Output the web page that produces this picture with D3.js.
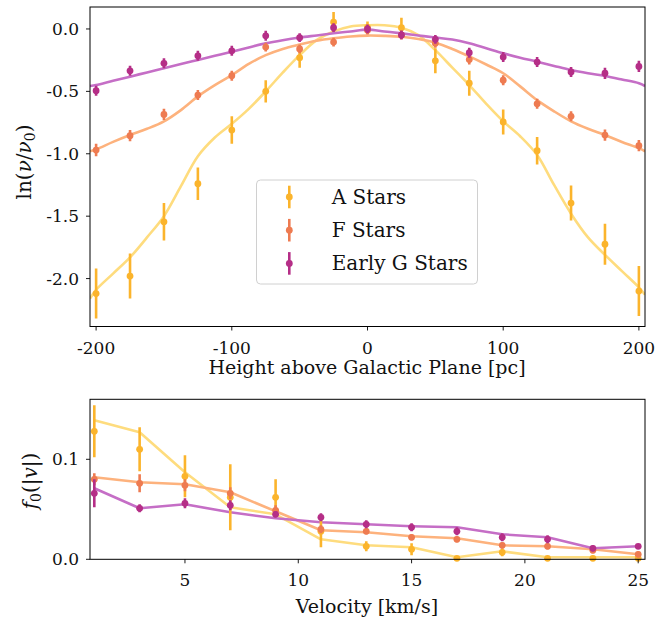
<!DOCTYPE html>
<html><head><meta charset="utf-8">
<script src="https://cdn.jsdelivr.net/npm/d3@7"></script>
<style>
body{margin:0;background:#fff;}
</style></head><body>
<svg id="chart" width="668" height="620"></svg>
<script>
// ---------- DATA: top panel ----------
const heights = [-200,-175,-150,-125,-100,-75,-50,-25,0,25,50,75,100,125,150,175,200];
const aStars   = [-2.12,-1.98,-1.545,-1.24,-0.81,-0.50,-0.23,0.055,0.01,0.01,-0.255,-0.435,-0.745,-0.975,-1.395,-1.725,-2.10];
const aErr     = [0.20,0.18,0.15,0.13,0.11,0.09,0.08,0.08,0.05,0.08,0.10,0.10,0.10,0.11,0.14,0.165,0.20];
const fStars   = [-0.97,-0.855,-0.685,-0.53,-0.375,-0.145,-0.16,-0.105,-0.01,-0.05,-0.115,-0.245,-0.41,-0.60,-0.70,-0.85,-0.935];
const fErr     = [0.05,0.045,0.045,0.04,0.04,0.035,0.035,0.035,0.035,0.035,0.035,0.04,0.04,0.04,0.04,0.045,0.045];
const gStars   = [-0.495,-0.335,-0.275,-0.215,-0.175,-0.055,-0.07,0.01,0.0,-0.048,-0.083,-0.19,-0.225,-0.265,-0.345,-0.355,-0.30];
const gErr     = [0.04,0.04,0.04,0.04,0.04,0.04,0.035,0.035,0.035,0.035,0.035,0.04,0.04,0.04,0.04,0.045,0.045];

const heightCurve = [-204.5,-200,-187.5,-175,-162.5,-150,-137.5,-125,-112.5,-100,-87.5,-75,-62.5,-50,-37.5,-25,-12.5,0,12.5,25,37.5,50,62.5,75,87.5,100,112.5,125,137.5,150,162.5,175,187.5,200,204.5];
const aModel = [-2.16,-2.09,-1.96,-1.83,-1.67,-1.50,-1.26,-1.02,-0.87,-0.76,-0.64,-0.50,-0.35,-0.21,-0.09,-0.02,0.02,0.03,0.03,0.01,-0.05,-0.17,-0.31,-0.45,-0.60,-0.74,-0.86,-1.01,-1.25,-1.48,-1.67,-1.81,-1.94,-2.07,-2.13];
const fModel = [-0.98,-0.965,-0.905,-0.85,-0.80,-0.74,-0.65,-0.54,-0.45,-0.37,-0.28,-0.21,-0.16,-0.125,-0.095,-0.075,-0.06,-0.053,-0.055,-0.062,-0.08,-0.11,-0.16,-0.22,-0.285,-0.355,-0.46,-0.57,-0.66,-0.74,-0.80,-0.85,-0.905,-0.955,-0.98];
const gModel = [-0.457,-0.449,-0.415,-0.382,-0.348,-0.315,-0.281,-0.248,-0.215,-0.182,-0.148,-0.115,-0.09,-0.069,-0.052,-0.035,-0.02,-0.005,-0.02,-0.035,-0.052,-0.069,-0.085,-0.115,-0.155,-0.195,-0.23,-0.262,-0.296,-0.329,-0.355,-0.377,-0.405,-0.435,-0.457];

const topXTicks = [-200,-100,0,100,200];
const topYTicks = [0.0,-0.5,-1.0,-1.5,-2.0];

// ---------- DATA: bottom panel ----------
const velocities = [1,3,5,7,9,11,13,15,17,19,21,23,25];
const aVel    = [0.128,0.110,0.083,0.062,0.062,0.028,0.013,0.010,0.001,0.007,0.001,0.001,0.001];
const aVelErr = [0.026,0.022,0.021,0.033,0.018,0.016,0.005,0.006,0.002,0.004,0.002,0.002,0.002];
const fVel    = [0.080,0.076,0.074,0.066,0.049,0.030,0.028,0.022,0.020,0.014,0.013,0.009,0.005];
const fVelErr = [0.006,0.009,0.006,0.006,0.005,0.004,0.003,0.003,0.003,0.003,0.003,0.003,0.003];
const gVel    = [0.066,0.051,0.056,0.054,0.045,0.042,0.035,0.032,0.028,0.022,0.020,0.011,0.013];
const gVelErr = [0.014,0.004,0.005,0.005,0.003,0.004,0.004,0.004,0.004,0.004,0.004,0.003,0.002];
const aVelModel = [0.139,0.127,0.087,0.052,0.045,0.020,0.014,0.012,0.002,0.008,0.002,0.002,0.002];
const fVelModel = [0.082,0.077,0.075,0.067,0.048,0.029,0.027,0.023,0.021,0.014,0.013,0.010,0.005];
const gVelModel = [0.071,0.051,0.055,0.047,0.041,0.037,0.035,0.033,0.032,0.025,0.022,0.011,0.013];

const botXTicks = [5,10,15,20,25];
const botYTicks = [0.0,0.1];

const seriesNames = ["A Stars","F Stars","Early G Stars"];
const pointColors = ["#fbb42c","#ee7b51","#b52e87"];
const lineColors  = ["#fedc7e","#fdb27d","#c56ec6"];

// ---------- DRAW ----------
const FONT = "'DejaVu Serif', 'Liberation Serif', serif";
const svg = d3.select("#chart");
const L = 90, R = 645;
function txt(g){ return g.append("text").style("font-family",FONT).attr("fill","#111"); }
const fmt1 = v => d3.format(".1f")(v).replace("−","-");

function frame(g, x, y, xt, yt, fmtY, fmtX){
  const [y0,y1] = y.range();
  xt.forEach(t=>{
    g.append("line").attr("x1",x(t)).attr("x2",x(t)).attr("y1",y0).attr("y2",y0+4)
     .attr("stroke","#000").attr("stroke-width",0.9);
    txt(g).attr("x",x(t)).attr("y",y0+27).attr("text-anchor","middle")
     .style("font-size","17px").text(fmtX(t));
  });
  yt.forEach(t=>{
    g.append("line").attr("x1",L-4).attr("x2",L).attr("y1",y(t)).attr("y2",y(t))
     .attr("stroke","#000").attr("stroke-width",0.9);
    txt(g).attr("x",L-11).attr("y",y(t)+6).attr("text-anchor","end")
     .style("font-size","17px").text(fmtY(t));
  });
  g.append("rect").attr("x",L).attr("y",y1).attr("width",R-L).attr("height",y0-y1)
   .attr("fill","none").attr("stroke","#000").attr("stroke-width",1);
}

function drawSeries(g, x, y, xs, vals, errs, color, clipId){
  const grp = g.append("g").attr("clip-path",`url(#${clipId})`);
  xs.forEach((xv,i)=>{
    grp.append("line").attr("x1",x(xv)).attr("x2",x(xv))
      .attr("y1",y(vals[i]-errs[i])).attr("y2",y(vals[i]+errs[i]))
      .attr("stroke",color).attr("stroke-width",2.6);
    grp.append("circle").attr("cx",x(xv)).attr("cy",y(vals[i])).attr("r",3.4).attr("fill",color);
  });
}
function drawModel(g, x, y, xs, vals, color, clipId, curve){
  const line = d3.line().x((d,i)=>x(xs[i])).y(d=>y(d)).curve(curve);
  g.append("path").attr("clip-path",`url(#${clipId})`).attr("d",line(vals))
   .attr("fill","none").attr("stroke",color).attr("stroke-width",2.6)
   .attr("stroke-linejoin","round");
}

// Top panel
const xTop = d3.scaleLinear().domain([-204.5,204.5]).range([L,R]);
const yTop = d3.scaleLinear().domain([-2.384,0.176]).range([326.5,7]);
const defs = svg.append("defs");
defs.append("clipPath").attr("id","clipTop").append("rect")
  .attr("x",L).attr("y",7).attr("width",R-L).attr("height",326.5-7);
defs.append("clipPath").attr("id","clipBot").append("rect")
  .attr("x",L).attr("y",399.3).attr("width",R-L).attr("height",560.3-399.3+3);

const gTop = svg.append("g");
[aModel,fModel,gModel].forEach((m,i)=>drawModel(gTop,xTop,yTop,heightCurve,m,lineColors[i],"clipTop",d3.curveCatmullRom.alpha(0.5)));
[[aStars,aErr],[fStars,fErr],[gStars,gErr]].forEach((p,i)=>drawSeries(gTop,xTop,yTop,heights,p[0],p[1],pointColors[i],"clipTop"));
frame(gTop,xTop,yTop,topXTicks,topYTicks,fmt1,d=>String(d));

// legend
const lg = gTop.append("g");
lg.append("rect").attr("x",256.5).attr("y",180).attr("width",221).attr("height",104).attr("rx",4)
  .attr("fill","#fff").attr("fill-opacity",0.85).attr("stroke","#d0d0d0").attr("stroke-width",1);
seriesNames.forEach((n,i)=>{
  const cy = 197 + i*33.2;
  lg.append("line").attr("x1",289.3).attr("x2",289.3).attr("y1",cy-11.3).attr("y2",cy+11.3)
    .attr("stroke",pointColors[i]).attr("stroke-width",2.6);
  lg.append("circle").attr("cx",289.3).attr("cy",cy).attr("r",3.4).attr("fill",pointColors[i]);
  txt(lg).attr("x",331.7).attr("y",cy+7).style("font-size","20px").text(n);
});

// axis labels top
txt(svg).attr("x",367).attr("y",374).attr("text-anchor","middle").style("font-size","19px")
  .text("Height above Galactic Plane [pc]");
const yl = txt(svg).attr("transform","translate(31,162) rotate(-90)")
  .attr("text-anchor","middle").style("font-size","20px");
yl.append("tspan").text("ln(");
yl.append("tspan").attr("font-style","italic").text("ν");
yl.append("tspan").text("/");
yl.append("tspan").attr("font-style","italic").text("ν");
yl.append("tspan").style("font-size","14px").attr("dy",4).text("0");
yl.append("tspan").attr("dy",-4).text(")");

// Bottom panel
const xBot = d3.scaleLinear().domain([0.81,25.3]).range([L,R]);
const yBot = d3.scaleLinear().domain([0,0.16]).range([559.3,399.3]);
const gBot = svg.append("g");
[aVelModel,fVelModel,gVelModel].forEach((m,i)=>drawModel(gBot,xBot,yBot,velocities,m,lineColors[i],"clipBot",d3.curveLinear));
[[aVel,aVelErr],[fVel,fVelErr],[gVel,gVelErr]].forEach((p,i)=>drawSeries(gBot,xBot,yBot,velocities,p[0],p[1],pointColors[i],"clipBot"));
frame(gBot,xBot,yBot,botXTicks,botYTicks,fmt1,d=>String(d));

txt(svg).attr("x",367).attr("y",613).attr("text-anchor","middle").style("font-size","19px")
  .text("Velocity [km/s]");
const yl2 = txt(svg).attr("transform","translate(37,481) rotate(-90)")
  .attr("text-anchor","middle").style("font-size","20px");
yl2.append("tspan").attr("font-style","italic").text("f");
yl2.append("tspan").style("font-size","14px").attr("dy",4).text("0");
yl2.append("tspan").attr("dy",-4).text("(|");
yl2.append("tspan").attr("font-style","italic").text("v");
yl2.append("tspan").text("|)");
</script>
</body></html>
